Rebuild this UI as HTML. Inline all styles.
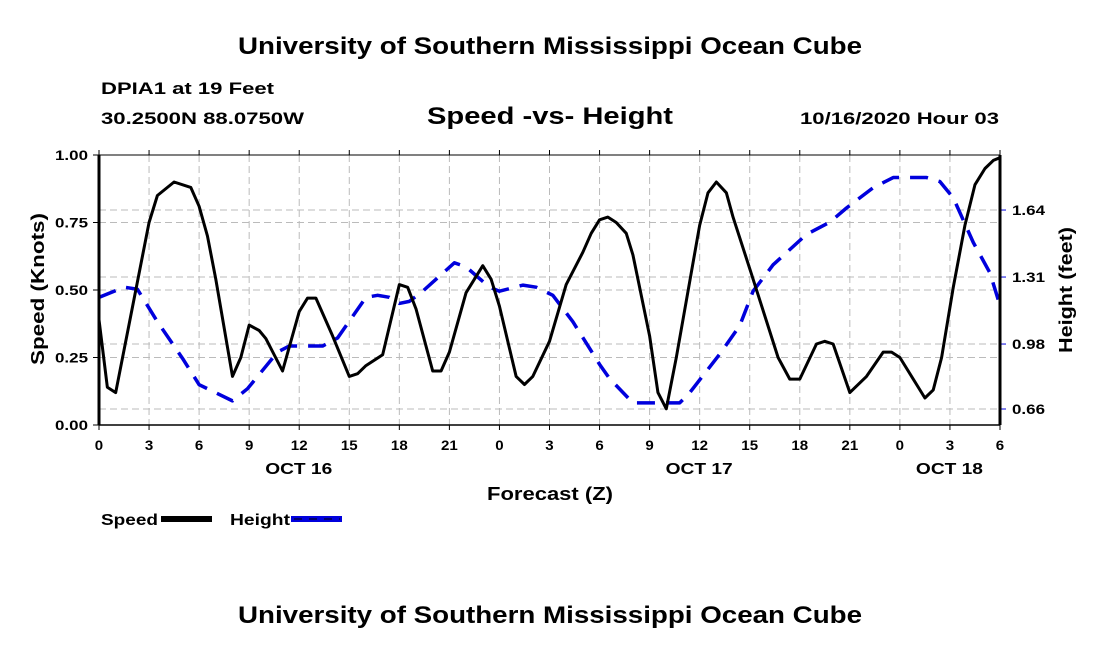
<!DOCTYPE html>
<html><head><meta charset="utf-8"><style>
body{margin:0;background:#fff;width:1100px;height:650px;overflow:hidden}
svg{display:block;font-family:"Liberation Sans",sans-serif;font-weight:bold}
</style></head><body>
<svg id="chart" width="1100" height="650">
<text x="238" y="54" font-size="24" textLength="624" lengthAdjust="spacingAndGlyphs">University of Southern Mississippi Ocean Cube</text>
<text x="101" y="94" font-size="17" textLength="173" lengthAdjust="spacingAndGlyphs">DPIA1 at 19 Feet</text>
<text x="101" y="124" font-size="17" textLength="203" lengthAdjust="spacingAndGlyphs">30.2500N 88.0750W</text>
<text x="427" y="124" font-size="24" textLength="246" lengthAdjust="spacingAndGlyphs">Speed -vs- Height</text>
<text x="800" y="124" font-size="17" textLength="199" lengthAdjust="spacingAndGlyphs">10/16/2020 Hour 03</text>
<text x="238" y="623" font-size="24" textLength="624" lengthAdjust="spacingAndGlyphs">University of Southern Mississippi Ocean Cube</text>
<g id="grid"></g>
<g id="series"></g>
<g id="axes"></g>
<text transform="translate(44,365) rotate(-90)" font-size="18" textLength="152" lengthAdjust="spacingAndGlyphs">Speed (Knots)</text>
<text transform="translate(1072,353) rotate(-90)" font-size="18" textLength="126" lengthAdjust="spacingAndGlyphs">Height (feet)</text>
<text x="487" y="500" font-size="18" textLength="126" lengthAdjust="spacingAndGlyphs">Forecast (Z)</text>
<g>
<text x="101" y="525" font-size="16" textLength="57" lengthAdjust="spacingAndGlyphs">Speed</text>
<rect x="161" y="516" width="51" height="6" fill="#000"/>
<text x="230" y="525" font-size="16" textLength="60" lengthAdjust="spacingAndGlyphs">Height</text>
<rect x="291" y="516" width="51" height="6" fill="#0000dd"/>
<line x1="294" y1="519" x2="340" y2="519" stroke="#000" stroke-width="1" stroke-dasharray="8,7"/>
</g>
</svg>
<script>
const speedHours=[0,0.5,1,3,3.5,4.5,5.5,6,6.5,7,8,8.5,9,9.6,10,11,12,12.5,13,14,15,15.5,16,17,18,18.5,19,20,20.5,21,22,23,23.5,24,25,25.5,26,27,28,29,29.5,30,30.5,31,31.6,32,33,33.5,34,34.6,36,36.5,37,37.6,38,39.1,40.7,41.4,42,43,43.5,44,45,46,47,47.5,48,49,49.5,50,50.5,51.2,51.9,52.5,53.1,53.6,54];
const speedValues=[0.39,0.14,0.12,0.75,0.85,0.90,0.88,0.81,0.70,0.54,0.18,0.25,0.37,0.35,0.32,0.20,0.42,0.47,0.47,0.33,0.18,0.19,0.22,0.26,0.52,0.51,0.43,0.20,0.20,0.27,0.49,0.59,0.54,0.44,0.18,0.15,0.18,0.31,0.52,0.64,0.71,0.76,0.77,0.75,0.71,0.63,0.33,0.12,0.06,0.25,0.74,0.86,0.90,0.86,0.77,0.56,0.25,0.17,0.17,0.30,0.31,0.30,0.12,0.18,0.27,0.27,0.25,0.15,0.10,0.13,0.25,0.51,0.74,0.89,0.95,0.98,0.99];
const heightHours=[0,1.5,2.3,3.5,5,6,8,8.9,10.7,11.4,13.4,14.3,16,16.7,17.4,18,18.6,19.4,21.3,22,23.4,24,25.4,26.2,27.2,28.4,30,30.6,32,33,34.8,35.4,37.2,38.4,39.2,40.4,42.4,43.8,44.8,46.4,47.6,48.4,49.6,50.4,51.2,52.4,53.4,54];
const heightValues=[1.21,1.26,1.25,1.09,0.91,0.78,0.70,0.76,0.94,0.97,0.97,1.01,1.21,1.22,1.21,1.18,1.19,1.24,1.38,1.36,1.26,1.24,1.27,1.26,1.22,1.09,0.88,0.81,0.69,0.69,0.69,0.74,0.93,1.07,1.24,1.37,1.52,1.58,1.65,1.75,1.80,1.80,1.80,1.78,1.70,1.48,1.33,1.17];
const xTickLabels=["0","3","6","9","12","15","18","21","0","3","6","9","12","15","18","21","0","3","6"];
const leftTicks=[0,0.25,0.5,0.75,1];
const leftTickLabels=["0.00","0.25","0.50","0.75","1.00"];
const rightTicks=[0.66,0.98,1.31,1.64];
const dayLabels=["OCT 16","OCT 17","OCT 18"];
const dayLabelHours=[12,36,51];

const X0=99,X1=1000,Y0=425,Y1=155;
const xs=h=>X0+(h/54)*(X1-X0);
const ySpeed=v=>Y0-v*(Y0-Y1);
const yHeight=v=>409-(v-0.66)*(67/0.33);
const NS="http://www.w3.org/2000/svg";
function mk(tag,attrs,parent){const e=document.createElementNS(NS,tag);for(const k in attrs)e.setAttribute(k,attrs[k]);parent.appendChild(e);return e;}
const grid=document.getElementById('grid'),series=document.getElementById('series'),axes=document.getElementById('axes');
const cw=8.4;
xTickLabels.forEach((l,i)=>{const x=xs(i*3);
 if(i>0&&i<18){const g=mk('line',{x1:x,x2:x,y1:Y1,y2:Y0,stroke:'#bbb','stroke-width':1,'stroke-dasharray':'7,4'},grid);
 
 }
 const t=mk('line',{x1:x,x2:x,y1:Y0,y2:Y0+5,stroke:'#000','stroke-width':1},axes);
 
 
 const t2=mk('line',{x1:x,x2:x,y1:Y1,y2:Y1-5,stroke:'#000','stroke-width':1},axes);
 
 
 const tx=mk('text',{x:x-l.length*cw/2,y:450,'font-size':14,textLength:l.length*cw,lengthAdjust:'spacingAndGlyphs'},axes);tx.textContent=l;
 
 
});
dayLabels.forEach((l,i)=>{const tx=mk('text',{x:xs(dayLabelHours[i])-34,y:474,'font-size':16,textLength:67,lengthAdjust:'spacingAndGlyphs'},axes);tx.textContent=l;
 
 });
leftTicks.forEach((v,i)=>{const y=ySpeed(v);
 if(v>0&&v<1){const g=mk('line',{x1:X0,x2:X1,y1:y,y2:y,stroke:'#bbb','stroke-width':1,'stroke-dasharray':'7,4'},grid);
 
 }
 const t=mk('line',{x1:X0-6,x2:X0,y1:y,y2:y,stroke:'#000','stroke-width':1},axes);
 
 
 const tx=mk('text',{x:55,y:y+5,'font-size':14,textLength:33,lengthAdjust:'spacingAndGlyphs'},axes);tx.textContent=leftTickLabels[i];
 
 
});
rightTicks.forEach(v=>{const y=yHeight(v);
 const g=mk('line',{x1:X0,x2:X1,y1:y,y2:y,stroke:'#bbb','stroke-width':1,'stroke-dasharray':'7,4'},grid);
 
 
 const t=mk('line',{x1:X1,x2:X1+6,y1:y,y2:y,stroke:'#0000dd','stroke-width':1},axes);
 
 
 const tx=mk('text',{x:X1+12,y:y+5,'font-size':14,textLength:33,lengthAdjust:'spacingAndGlyphs'},axes);tx.textContent=v.toFixed(2);
 
 
});
const hp=mk('polyline',{points:heightHours.map((h,i)=>xs(h)+','+yHeight(heightValues[i])).join(' '),fill:'none',stroke:'#0000dd','stroke-width':3.5,'stroke-dasharray':'18,11','stroke-linejoin':'round'},series);


const sp=mk('polyline',{points:speedHours.map((h,i)=>xs(h)+','+ySpeed(speedValues[i])).join(' '),fill:'none',stroke:'#000','stroke-width':3,'stroke-linejoin':'round'},series);


const ax=[[X0,Y1,X1,Y1,1],[X0,Y0,X1,Y0,1.5],[X0,Y1,X0,Y0,3],[X1,Y1,X1,Y0,3]];
ax.forEach(a=>{const l=mk('line',{x1:a[0],y1:a[1],x2:a[2],y2:a[3],stroke:'#000','stroke-width':a[4]},axes);
 
 });
</script>
</body></html>
